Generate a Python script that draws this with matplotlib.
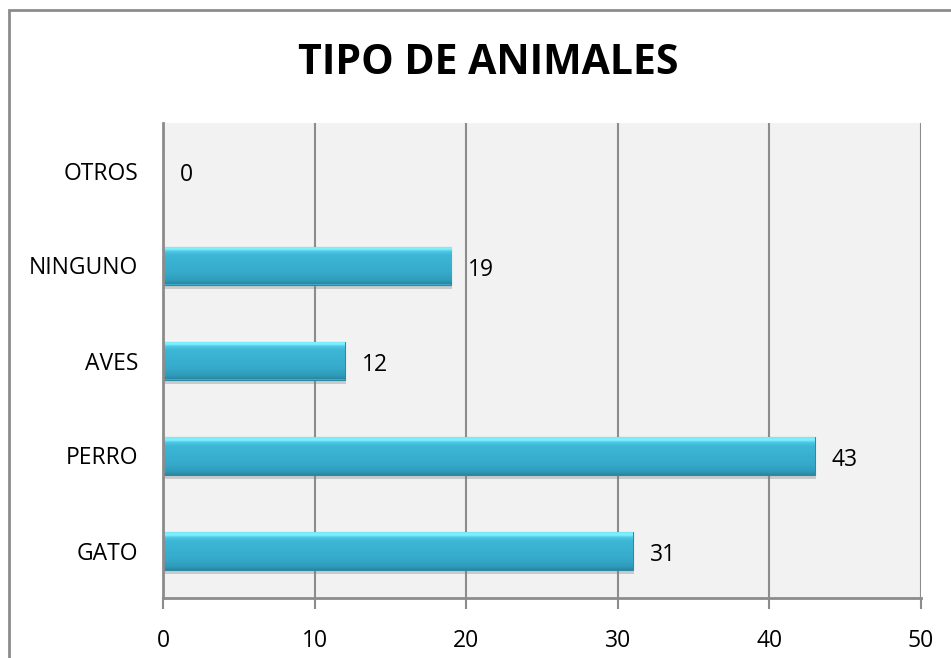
import matplotlib
matplotlib.use("Agg")
import matplotlib.pyplot as plt
import numpy as np
from matplotlib.patches import Rectangle
import matplotlib.patheffects as pe
from matplotlib.colors import LinearSegmentedColormap

categories = ["GATO", "PERRO", "AVES", "NINGUNO", "OTROS"]
values = [31, 43, 12, 19, 0]
xticks = [0, 10, 20, 30, 40, 50]
title = "TIPO DE ANIMALES"

FONT = "Open Sans"
fig = plt.figure(figsize=(9.51, 6.58), dpi=100)
fig.patch.set_facecolor("white")

# outer chart border
fig.add_artist(Rectangle((9 / 951, -0.05), 1.2, 1 - 10 / 658 + 0.05,
                         transform=fig.transFigure, fill=False,
                         edgecolor="#8c8c8c", linewidth=2))

ax = fig.add_axes([163 / 951, 1 - 598 / 658, (921 - 163) / 951, (598 - 123) / 658])
ax.set_facecolor("#f2f2f2")
ax.set_xlim(0, 50)
ax.set_ylim(-0.5, len(categories) - 0.5)
ax.set_xticks(xticks)
ax.set_xticklabels([str(t) for t in xticks], fontsize=16.5, family=FONT)
ax.set_yticks(range(len(categories)))
ax.set_yticklabels(categories, fontsize=16.5, family=FONT)
ax.tick_params(axis="x", length=8, width=1.5, color="#8c8c8c", pad=14)
ax.tick_params(axis="y", length=0, pad=18)
ax.grid(axis="x", color="#8c8c8c", linewidth=1.5, zorder=0)
ax.set_axisbelow(True)
for s in ["top", "right"]:
    ax.spines[s].set_visible(False)
for s in ["left", "bottom"]:
    ax.spines[s].set_color("#8c8c8c")
    ax.spines[s].set_linewidth(2)
    ax.spines[s].set_zorder(5)

bar_h = 0.40
bars = ax.barh(range(len(categories)), values, height=bar_h, color="#3ab0d0",
               edgecolor="#2b8aa5", linewidth=0.8, zorder=3)
cmap = LinearSegmentedColormap.from_list(
    "bevel", [(0.0, "#2b86a0"), (0.10, "#2f9dbb"), (0.30, "#36aacb"),
              (0.75, "#3db6d5"), (0.86, "#4cc6e4"), (0.92, "#7ff2ff"), (1.0, "#78e8fa")])
grad = np.linspace(0, 1, 256).reshape(-1, 1)
for b, v, i in zip(bars, values, range(len(values))):
    b.set_path_effects([pe.SimplePatchShadow(offset=(1, -3), shadow_rgbFace="#808080", alpha=0.35),
                        pe.Normal()])
    if v > 0:
        im = ax.imshow(grad, extent=(0, v, i - bar_h / 2, i + bar_h / 2), origin="lower",
                       cmap=cmap, aspect="auto", zorder=4, interpolation="bilinear")
        im.set_clip_path(b)
    ax.annotate(str(v), (v, i), xytext=(12, -3), textcoords="offset points",
                ha="left", va="center", fontsize=16.5, family=FONT, zorder=6)

ax.set_xlim(0, 50)
ax.set_ylim(-0.5, len(categories) - 0.5)

fig.text(0.513, 1 - 64 / 658, title, ha="center", va="center",
         fontsize=29.5, fontweight="bold", family=FONT)

fig.savefig("out.png", dpi=100)
